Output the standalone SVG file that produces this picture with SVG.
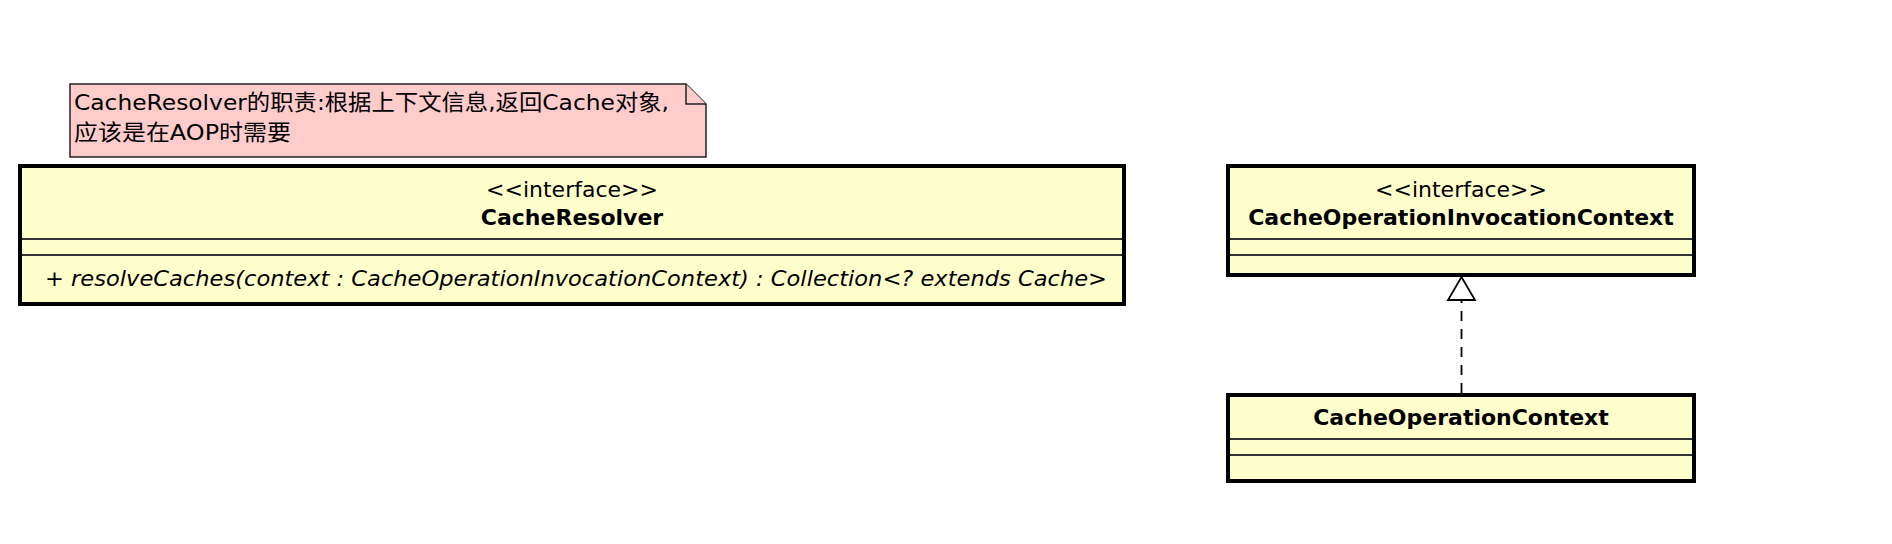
<svg xmlns="http://www.w3.org/2000/svg" width="1892" height="544" viewBox="0 0 1892 544">
<style>
.cls{fill:#FFFFCC;stroke:#000;stroke-width:4}
.sep{stroke:#333;stroke-width:2}
.note{fill:#FFCCCC;stroke:#222;stroke-width:1.5}
.t{font-family:"DejaVu Sans","Noto Sans CJK SC",sans-serif;font-size:22px;fill:#000}
.b{font-weight:bold}
.i{font-style:italic}
.c{text-anchor:middle}
.nt{font-family:"DejaVu Sans","Noto Sans CJK SC",sans-serif;font-size:22px;fill:#000}
.dash{stroke:#000;stroke-width:1.8;stroke-dasharray:10 8;fill:none}
.tri{fill:#fff;stroke:#000;stroke-width:1.8}
</style>
<rect width="1892" height="544" fill="#fff"/>
<g id="note">
<path class="note" d="M70,84 H686 L706,104 V157 H70 Z"/>
<path class="note" d="M686,84 V104 H706" fill="none"/>
<text class="nt" x="74" y="110" textLength="595" lengthAdjust="spacingAndGlyphs">CacheResolver的职责:根据上下文信息,返回Cache对象,</text>
<text class="nt" x="74" y="140" textLength="217" lengthAdjust="spacingAndGlyphs">应该是在AOP时需要</text>
</g>
<g id="CacheResolver">
<rect class="cls" x="20" y="166" width="1104" height="138"/>
<line class="sep" x1="22" y1="239" x2="1122" y2="239"/>
<line class="sep" x1="22" y1="255" x2="1122" y2="255"/>
<text class="t c" x="572" y="197">&lt;&lt;interface&gt;&gt;</text>
<text class="t c b" x="572" y="225">CacheResolver</text>
<text class="t i" x="45" y="286" textLength="1062" lengthAdjust="spacingAndGlyphs">+ resolveCaches(context : CacheOperationInvocationContext) : Collection&lt;? extends Cache&gt;</text>
</g>
<g id="CacheOperationInvocationContext">
<rect class="cls" x="1228" y="166" width="466" height="109"/>
<line class="sep" x1="1230" y1="239" x2="1692" y2="239"/>
<line class="sep" x1="1230" y1="255" x2="1692" y2="255"/>
<text class="t c" x="1461" y="197">&lt;&lt;interface&gt;&gt;</text>
<text class="t c b" x="1461" y="225">CacheOperationInvocationContext</text>
</g>
<g id="CacheOperationContext">
<rect class="cls" x="1228" y="395" width="466" height="86"/>
<line class="sep" x1="1230" y1="439" x2="1692" y2="439"/>
<line class="sep" x1="1230" y1="455" x2="1692" y2="455"/>
<text class="t c b" x="1461" y="425">CacheOperationContext</text>
</g>
<g id="connectors">
<line class="dash" x1="1461.5" y1="393" x2="1461.5" y2="300"/>
<polygon class="tri" points="1461.5,277 1475,300 1448,300"/>
</g>
</svg>
